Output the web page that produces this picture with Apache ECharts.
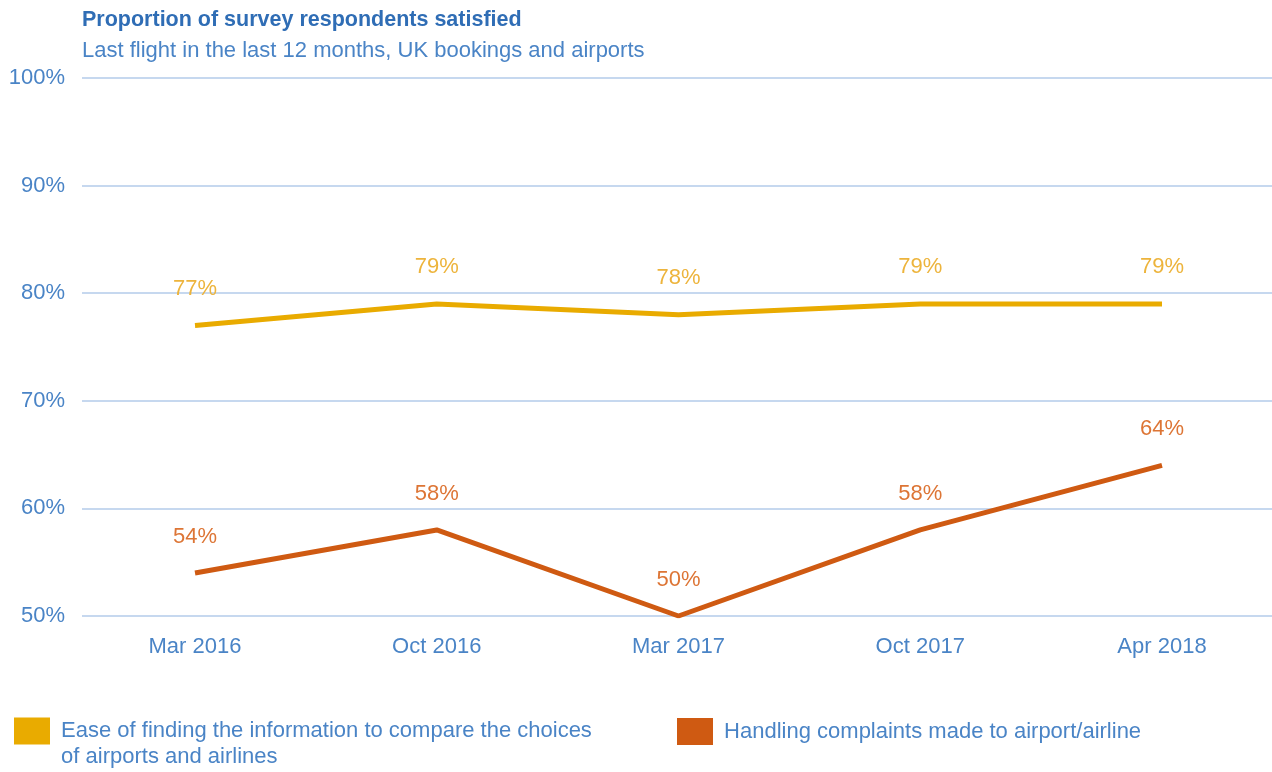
<!DOCTYPE html>
<html>
<head>
<meta charset="utf-8">
<script src="https://cdn.jsdelivr.net/npm/echarts@6/dist/echarts.min.js"></script>
<style>html,body{margin:0;padding:0;background:#fff}#c{width:1272px;height:772px}</style>
</head>
<body>
<div id="c"></div>
<script>
const categories = ['Mar 2016', 'Oct 2016', 'Mar 2017', 'Oct 2017', 'Apr 2018'];
const easeValues = [77, 79, 78, 79, 79];
const complaintsValues = [54, 58, 50, 58, 64];
const seriesNames = ['Ease of finding the information to compare the choices\nof airports and airlines', 'Handling complaints made to airport/airline'];
const yTicks = [50, 60, 70, 80, 90, 100];

const FONT = '"Liberation Sans", Arial, Helvetica, sans-serif';
const BLUE = '#4A84C6';
const chart = echarts.init(document.getElementById('c'));
chart.setOption({
  animation: false,
  textStyle: { fontFamily: FONT },
  title: [
    { text: 'Proportion of survey respondents satisfied', left: 82, top: 9, padding: 0,
      textStyle: { fontFamily: FONT, fontSize: 21.5, fontWeight: 'bold', color: '#2F6DB5' } },
    { text: 'Last flight in the last 12 months, UK bookings and airports', left: 82, top: 40, padding: 0,
      textStyle: { fontFamily: FONT, fontSize: 22, fontWeight: 'normal', color: '#4A84C6' } }
  ],
  grid: [
    { left: 82, right: 0, top: 78, bottom: 156 },
    { left: 195, right: 110, top: 78, bottom: 156 }
  ],
  xAxis: [
    { type: 'category', gridIndex: 0, data: categories, show: false },
    { type: 'category', gridIndex: 1, data: categories, boundaryGap: false,
      axisLine: { show: false }, axisTick: { show: false },
      axisLabel: { color: BLUE, fontSize: 22, margin: 20, fontFamily: FONT } }
  ],
  yAxis: [
    { type: 'value', gridIndex: 0, min: yTicks[0], max: yTicks[yTicks.length - 1], interval: 10,
      axisLine: { show: false }, axisTick: { show: false },
      axisLabel: { color: BLUE, fontSize: 22, margin: 17, fontFamily: FONT, formatter: v => v + '%' },
      splitLine: { lineStyle: { color: '#B3CBEA', width: 1.5 } } },
    { type: 'value', gridIndex: 1, min: yTicks[0], max: yTicks[yTicks.length - 1], interval: 10,
      show: false, splitLine: { show: false } }
  ],
  legend: [
    { data: [seriesNames[0]], left: 14, top: 692, padding: 0, itemWidth: 36, itemHeight: 27, itemGap: 10,
      icon: 'rect', selectedMode: false, formatter: n => '\n ' + n.replace('\n', '\n '),
      textStyle: { color: BLUE, fontSize: 22, fontFamily: FONT, lineHeight: 26 } },
    { data: [seriesNames[1]], left: 677, top: 718, padding: 0, itemWidth: 36, itemHeight: 27,
      icon: 'rect', selectedMode: false, formatter: n => ' ' + n,
      textStyle: { color: BLUE, fontSize: 22, fontFamily: FONT } }
  ],
  series: [
    { name: seriesNames[0], type: 'line', xAxisIndex: 1, yAxisIndex: 1, data: easeValues,
      symbol: 'circle', symbolSize: 0, lineStyle: { color: '#E9AB00', width: 5, cap: 'butt' },
      itemStyle: { color: '#E9AB00' },
      label: { show: true, position: 'top', distance: 26, color: '#EDB43C', fontSize: 22,
        fontFamily: FONT, formatter: p => p.value + '%' } },
    { name: seriesNames[1], type: 'line', xAxisIndex: 1, yAxisIndex: 1, data: complaintsValues,
      symbol: 'circle', symbolSize: 0, lineStyle: { color: '#CF5A12', width: 5, cap: 'butt' },
      itemStyle: { color: '#CF5A12' },
      label: { show: true, position: 'top', distance: 25, color: '#DD7535', fontSize: 22,
        fontFamily: FONT, formatter: p => p.value + '%' } }
  ]
});
</script>
</body>
</html>
